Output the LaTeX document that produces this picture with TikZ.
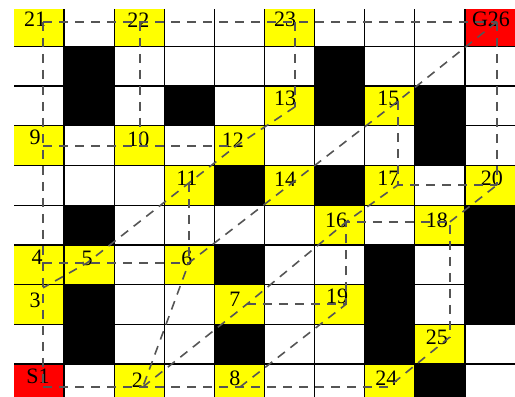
\documentclass[tikz,border=0pt]{standalone}
\usepackage{fontspec}
\setmainfont{Liberation Serif}
\usetikzlibrary{calc}
\definecolor{CellYellow}{RGB}{255, 255, 0}
\definecolor{CellRed}{RGB}{255, 0, 0}
\definecolor{RouteGrey}{RGB}{85, 85, 85}

\begin{document}
\begin{tikzpicture}[x=50.1pt, y=39.7pt,
    num/.style={font=\fontsize{22}{22}\selectfont, inner sep=0pt},
    route/.style={RouteGrey, line width=1.6pt, dash pattern=on 9pt off 7pt},
    gridline/.style={black, line width=1.3pt}]
    \useasboundingbox (-0.28,0.17) rectangle (10,10.17);

    \begin{scope}
    \clip (0,0.17) rectangle (10,9.92);
    % Yellow cells (column/row, row 0 at the top)
    \foreach \c/\r in {0/0, 2/0, 5/0, 5/2, 7/2, 0/3, 2/3, 4/3, 3/4, 5/4, 7/4, 9/4,
                       6/5, 8/5, 0/6, 1/6, 3/6, 0/7, 4/7, 6/7, 8/8, 2/9, 4/9, 7/9}
        \fill[CellYellow] (\c,9-\r) rectangle ++(1,1);

    % Start and goal
    \fill[CellRed] (9,9) rectangle (10,10);
    \fill[CellRed] (0,0) rectangle (1,1);

    % Obstacles
    \foreach \c/\r in {1/1, 6/1, 1/2, 3/2, 6/2, 8/2, 8/3, 4/4, 6/4, 1/5, 9/5, 4/6,
                       7/6, 9/6, 1/7, 7/7, 9/7, 1/8, 4/8, 7/8, 8/9}
        \fill[black] (\c,9-\r) rectangle ++(1,1);

    % Grid lines
    \foreach \i in {1,...,9} {
        \draw[gridline] (\i,0) -- (\i,10);
        \draw[gridline] (0,\i) -- (10,\i);
    }
    \end{scope}

    % Way points
    \coordinate (p21) at (0.58, 9.62);
    \coordinate (p22) at (2.51, 9.62);
    \coordinate (p23) at (5.61, 9.62);
    \coordinate (pG) at (9.64, 9.62);
    \coordinate (p13) at (5.61, 7.48);
    \coordinate (p15) at (7.66, 7.62);
    \coordinate (p9) at (0.58, 6.49);
    \coordinate (p10) at (2.51, 6.49);
    \coordinate (p12) at (4.43, 6.49);
    \coordinate (p11) at (3.49, 5.56);
    \coordinate (p14) at (5.55, 5.56);
    \coordinate (p17) at (7.66, 5.51);
    \coordinate (p20) at (9.64, 5.51);
    \coordinate (p16) at (6.63, 4.58);
    \coordinate (p18) at (8.70, 4.58);
    \coordinate (p4) at (0.58, 3.55);
    \coordinate (p5) at (1.46, 3.55);
    \coordinate (p6) at (3.49, 3.55);
    \coordinate (p3) at (0.58, 2.92);
    \coordinate (p7) at (4.65, 2.51);
    \coordinate (p19) at (6.63, 2.51);
    \coordinate (p25) at (8.70, 1.68);
    \coordinate (pS) at (0.58, 0.42);
    \coordinate (p2) at (2.57, 0.42);
    \coordinate (p8) at (4.51, 0.42);
    \coordinate (p24) at (7.47, 0.42);

    % Cell numbers
    \node[num] (n21) at (0.42, 9.69) {21};
    \node[num] (n22) at (2.48, 9.67) {22};
    \node[num] (n23) at (5.41, 9.69) {23};
    \node[num] (nG) at (9.52, 9.69) {G26};
    \node[num] (n13) at (5.41, 7.70) {13};
    \node[num] (n15) at (7.47, 7.70) {15};
    \node[num] (n9) at (0.42, 6.70) {9};
    \node[num] (n10) at (2.48, 6.67) {10};
    \node[num] (n12) at (4.37, 6.64) {12};
    \node[num] (n11) at (3.45, 5.69) {11};
    \node[num] (n14) at (5.41, 5.66) {14};
    \node[num] (n17) at (7.47, 5.69) {17};
    \node[num] (n20) at (9.54, 5.69) {20};
    \node[num] (n16) at (6.43, 4.63) {16};
    \node[num] (n18) at (8.44, 4.63) {18};
    \node[num] (n4) at (0.46, 3.70) {4};
    \node[num] (n5) at (1.46, 3.65) {5};
    \node[num] (n6) at (3.45, 3.67) {6};
    \node[num] (n3) at (0.42, 2.61) {3};
    \node[num] (n7) at (4.41, 2.64) {7};
    \node[num] (n19) at (6.45, 2.71) {19};
    \node[num] (n25) at (8.44, 1.68) {25};
    \node[num] (nS) at (0.48, 0.68) {S1};
    \node[num] (n2) at (2.46, 0.58) {2};
    \node[num] (n8) at (4.41, 0.63) {8};
    \node[num] (n24) at (7.43, 0.65) {24};

    % Straight runs
    \draw[route] (p21) -- (p22) -- (p23) -- (pG);
    \draw[route] (p21) -- (p9) -- (p4) -- (p3) -- (pS);
    \draw[route] (p22) -- (p10);
    \draw[route] (p9) -- (p10) -- (p12);
    \draw[route] (p23) -- (p13);
    \draw[route] (pG) -- (p20);
    \draw[route] (p15) -- (p17) -- (p20);
    \draw[route] (p11) -- (p6);
    \draw[route] (p4) -- (p5) -- (p6);
    \draw[route] (pS) -- (p2) -- (p8) -- (p24);
    \draw[route] (p7) -- (p19) -- (p16) -- (p18) -- (p25);

    % Diagonal runs
    \draw[route] (p13) -- (p12) -- (p11) -- (p5) -- (p3);
    \draw[route] (pG) -- (p15) -- (p14) -- (p6) -- (p2);
    \draw[route] (p2) -- (p7) -- (p16) -- (p17);
    \draw[route] (p8) -- (p19);
    \draw[route] (p18) -- (p20);
    \draw[route] (p25) -- (p24);
\end{tikzpicture}
\end{document}
